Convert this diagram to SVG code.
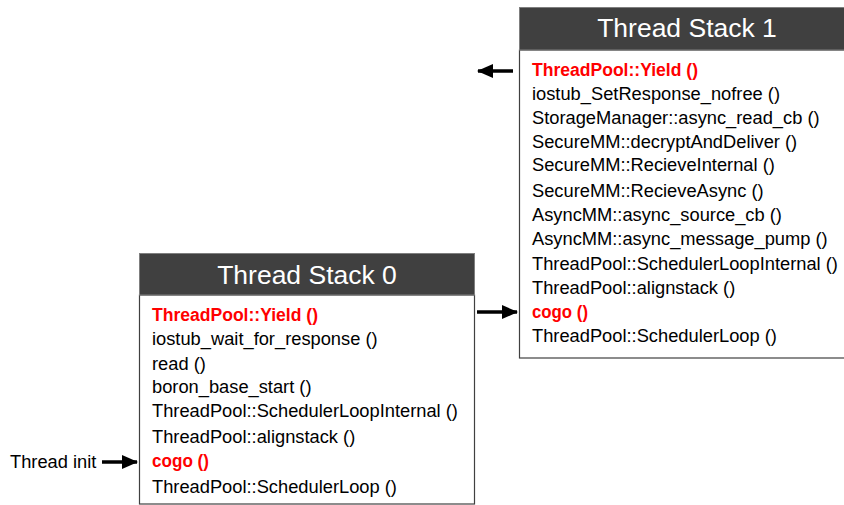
<svg xmlns="http://www.w3.org/2000/svg" width="844" height="505" viewBox="0 0 844 505">
<style>
.hdr{fill:#404040;stroke:#7f7f7f;stroke-width:1}
.body{fill:#ffffff;stroke:#404040;stroke-width:1.2}
.ht{font-family:"Liberation Sans",Arial,sans-serif;font-size:26.5px;fill:#ffffff;text-anchor:middle}
.t{font-family:"Liberation Sans",Arial,sans-serif;font-size:18.3px;fill:#000000}
.r{font-family:"Liberation Sans",Arial,sans-serif;font-size:18.3px;fill:#ff0000;font-weight:bold}
.arr{stroke:#000000;stroke-width:3.5;fill:none;marker-end:url(#ah)}
</style>
<defs>
<marker id="ah" markerUnits="userSpaceOnUse" markerWidth="16" markerHeight="14" refX="15" refY="7" orient="auto">
<path d="M0,0 L16,7 L0,14 Z" fill="#000000"/>
</marker>
</defs>
<g id="stack1">
<rect class="body" x="519.5" y="50" width="335" height="308"/>
<rect class="hdr" x="519.5" y="7.5" width="335" height="42.5"/>
<text class="ht" x="687" y="37">Thread Stack 1</text>
<text class="r" x="532" y="76" textLength="166" lengthAdjust="spacingAndGlyphs">ThreadPool::Yield ()</text>
<text class="t" x="532" y="100">iostub_SetResponse_nofree ()</text>
<text class="t" x="532" y="124">StorageManager::async_read_cb ()</text>
<text class="t" x="532" y="148">SecureMM::decryptAndDeliver ()</text>
<text class="t" x="532" y="171">SecureMM::RecieveInternal ()</text>
<text class="t" x="532" y="197">SecureMM::RecieveAsync ()</text>
<text class="t" x="532" y="221">AsyncMM::async_source_cb ()</text>
<text class="t" x="532" y="245">AsyncMM::async_message_pump ()</text>
<text class="t" x="532" y="270">ThreadPool::SchedulerLoopInternal ()</text>
<text class="t" x="532" y="293.5">ThreadPool::alignstack ()</text>
<text class="r" x="532" y="318" textLength="56" lengthAdjust="spacingAndGlyphs">cogo ()</text>
<text class="t" x="532" y="342">ThreadPool::SchedulerLoop ()</text>
</g>
<g id="stack0">
<rect class="body" x="139.5" y="295" width="335" height="209"/>
<rect class="hdr" x="139.5" y="253.5" width="335" height="41.5"/>
<text class="ht" x="307" y="283.5">Thread Stack 0</text>
<text class="r" x="152" y="320.5" textLength="166" lengthAdjust="spacingAndGlyphs">ThreadPool::Yield ()</text>
<text class="t" x="152" y="344.5">iostub_wait_for_response ()</text>
<text class="t" x="152" y="370">read ()</text>
<text class="t" x="152" y="392.5">boron_base_start ()</text>
<text class="t" x="152" y="417">ThreadPool::SchedulerLoopInternal ()</text>
<text class="t" x="152" y="442.5">ThreadPool::alignstack ()</text>
<text class="r" x="152" y="466.5" textLength="57" lengthAdjust="spacingAndGlyphs">cogo ()</text>
<text class="t" x="152" y="492.5">ThreadPool::SchedulerLoop ()</text>
</g>
<g id="label-init">
<text class="t" x="10" y="468">Thread init</text>
</g>
<g id="connectors">
<line class="arr" x1="513" y1="71" x2="478" y2="71"/>
<line class="arr" x1="477" y1="312" x2="517" y2="312"/>
<line class="arr" x1="102" y1="462" x2="137" y2="462"/>
</g>
</svg>
